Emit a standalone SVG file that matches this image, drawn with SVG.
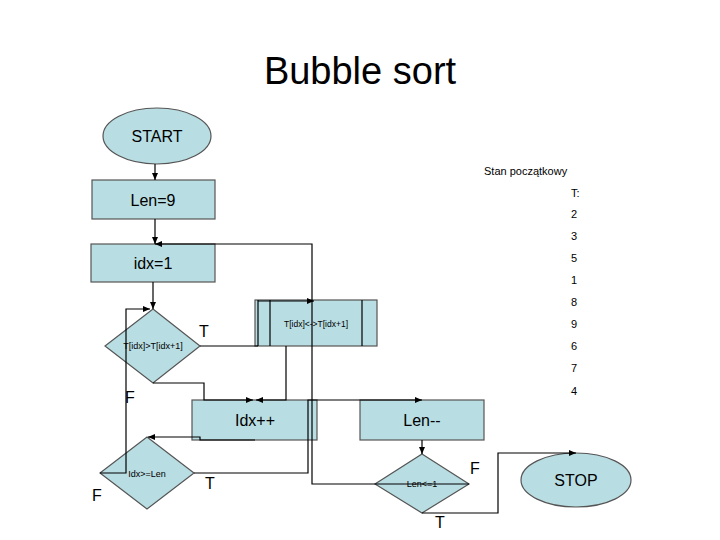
<svg xmlns="http://www.w3.org/2000/svg" width="720" height="540" viewBox="0 0 720 540">
<style>
.n{fill:#b8dde2;stroke:#555;stroke-width:1.2}
.t{font-family:"Liberation Sans",Arial,sans-serif;fill:#000}
.c{fill:none;stroke:#000;stroke-width:1.2}
</style>
<defs><marker id="a" markerWidth="8" markerHeight="8" refX="7" refY="4" orient="auto" markerUnits="userSpaceOnUse"><path d="M0,1 L7,4 L0,7z" fill="#000"/></marker></defs>
<rect width="720" height="540" fill="#fff"/>
<text class="t" x="360" y="84" font-size="38" text-anchor="middle">Bubble sort</text>
<g id="start"><ellipse class="n" cx="157" cy="136" rx="54" ry="28" fill="#b8dde2"/><text class="t" x="157" y="142" font-size="16" text-anchor="middle">START</text></g>
<g id="len9"><rect class="n" x="92" y="180" width="123" height="39"/><text class="t" x="153" y="206" font-size="16" text-anchor="middle">Len=9</text></g>
<g id="idx1"><rect class="n" x="91" y="244" width="124" height="38"/><text class="t" x="153" y="269" font-size="16" text-anchor="middle">idx=1</text></g>
<g id="cmp"><polygon class="n" points="153,309 200,346 153,383 105,346"/><text class="t" x="153" y="349" font-size="9" text-anchor="middle">T[idx]&gt;T[idx+1]</text></g>
<g id="swap"><rect class="n" x="255" y="300" width="122" height="46"/><line class="c" x1="258" y1="300" x2="258" y2="346" stroke="#555"/><line class="c" x1="270" y1="300" x2="270" y2="346" stroke="#555"/><line class="c" x1="362" y1="300" x2="362" y2="346" stroke="#555"/><text class="t" x="316" y="327" font-size="8.5" text-anchor="middle">T[idx]&lt;-&gt;T[idx+1]</text></g>
<g id="inc"><rect class="n" x="192" y="400" width="125" height="40"/><text class="t" x="255" y="426" font-size="16" text-anchor="middle">Idx++</text></g>
<g id="dec"><rect class="n" x="360" y="400" width="124" height="40"/><text class="t" x="422" y="426" font-size="16" text-anchor="middle">Len--</text></g>
<g id="chk1"><polygon class="n" points="147,437 194,473 147,509 100,473"/><text class="t" x="147" y="477" font-size="9" text-anchor="middle">Idx&gt;=Len</text></g>
<g id="chk2"><polygon class="n" points="422,454 469,484 422,513 375,484"/><text class="t" x="422" y="487" font-size="9" text-anchor="middle">Len&lt;=1</text></g>
<g id="stop"><ellipse class="n" cx="576" cy="480" rx="55" ry="27"/><text class="t" x="576" y="486" font-size="16" text-anchor="middle">STOP</text></g>
<g id="connectors" class="c">
<path class="c" d="M155,164 L155,180" marker-end="url(#a)"/>
<path class="c" d="M155,219 L155,244" marker-end="url(#a)"/>
<path class="c" d="M469,484 L312,484 L312,244 L155,244" marker-end="url(#a)"/>
<path class="c" d="M153,282 L153,309" marker-end="url(#a)"/>
<path class="c" d="M200,346 L258,346"/>
<path class="c" d="M258,301 L314,301" marker-end="url(#a)"/>
<path class="c" d="M286,346 L286,400 L256,400" marker-end="url(#a)"/>
<path class="c" d="M153,383 L204,383 L204,400 L253,400" marker-end="url(#a)"/>
<path class="c" d="M255,440 L200,440 L200,437 L148,437" marker-end="url(#a)"/>
<path class="c" d="M100,473 L126,473 L126,309 L150,309" marker-end="url(#a)"/>
<path class="c" d="M194,473 L308,473 L308,400 L422,400" marker-end="url(#a)"/>
<path class="c" d="M422,440 L422,454" marker-end="url(#a)"/>
<path class="c" d="M422,513 L498,513 L498,453 L576,453" marker-end="url(#a)"/>
</g>
<g class="t" font-size="16"><text x="199" y="337">T</text><text x="125" y="403">F</text><text x="205" y="489">T</text><text x="92" y="501">F</text><text x="470" y="474">F</text><text x="435" y="528">T</text></g>
<g class="t" font-size="11"><text x="484" y="175">Stan początkowy</text><text x="571" y="197">T:</text><text x="571" y="218">2</text><text x="571" y="240">3</text><text x="571" y="262">5</text><text x="571" y="284">1</text><text x="571" y="306">8</text><text x="571" y="328">9</text><text x="571" y="350">6</text><text x="571" y="372">7</text><text x="571" y="395">4</text></g>
</svg>
